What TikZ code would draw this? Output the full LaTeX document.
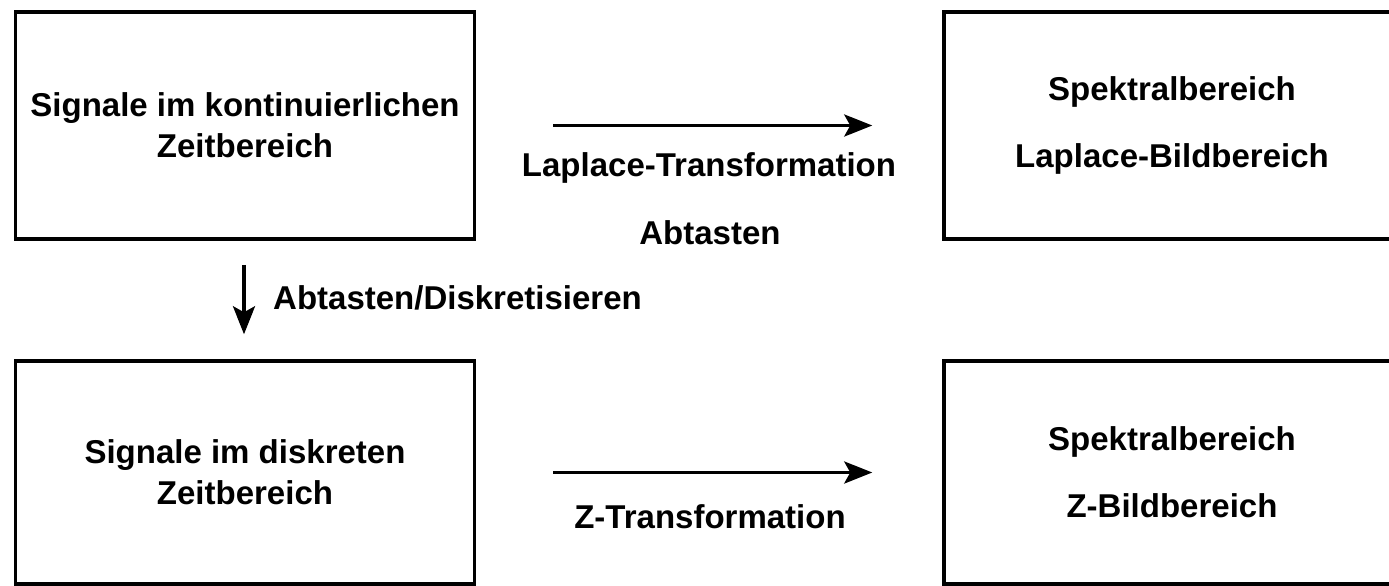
\documentclass[tikz,border=0pt]{standalone}
\usepackage{fontspec}
\setmainfont{Liberation Sans}
\usetikzlibrary{arrows.meta}
\begin{document}
\begin{tikzpicture}[x=1pt,y=-1pt,
  txt/.style={font=\fontsize{33pt}{41pt}\selectfont\bfseries, inner sep=0pt},
  box/.style={txt, draw=black, line width=3.5pt, align=center},
  arr/.style={line width=3.5pt, -{Stealth[length=28pt,width=22pt,inset=6pt]}}]
\useasboundingbox (0,0) rectangle (1389,586);
\clip (0,0) rectangle (1389,586);
\node[box, minimum width=459pt, minimum height=227pt] (tl) at (245,125.5)
  {Signale im kontinuierlichen\\Zeitbereich};
\node[box, minimum width=456pt, minimum height=227pt] (tr) at (1172,125.5)
  {Spektralbereich\\[26pt]Laplace-Bildbereich};
\node[box, minimum width=459pt, minimum height=223pt] (bl) at (245,472.5)
  {Signale im diskreten\\Zeitbereich};
\node[box, minimum width=456pt, minimum height=223pt] (br) at (1172,472.5)
  {Spektralbereich\\[26pt]Z-Bildbereich};
\draw[arr] ([xshift=77pt]tl.east) -- ([xshift=-70pt]tr.west);
\draw[arr] ([xshift=77pt]bl.east) -- ([xshift=-70pt]br.west);
\draw[arr, shorten <=24pt, shorten >=25pt] (tl.south -| 244,0) -- (bl.north -| 244,0);
\node[txt] (lt) at (709,168) {Laplace-Transformation};
\node[txt] (ab) at (710,233) {Abtasten};
\node[txt, anchor=west] (ad) at (273,298) {Abtasten/Diskretisieren};
\node[txt] (zt) at (710,517) {Z-Transformation};
\end{tikzpicture}
\end{document}
